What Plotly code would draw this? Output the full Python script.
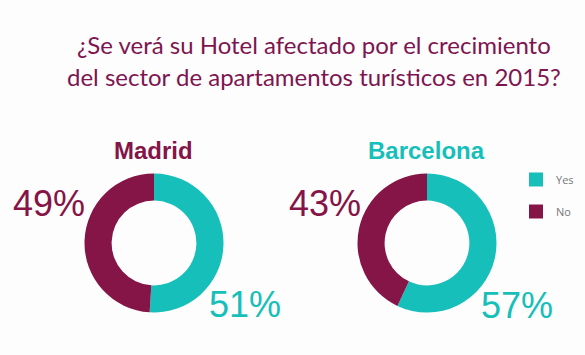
import plotly.graph_objects as go

labels = ["Yes", "No"]
cities = ["Madrid", "Barcelona"]
madrid_values = [51, 49]
barcelona_values = [57, 43]
title_lines = ["¿Se verá su Hotel afectado por el crecimiento",
               "del sector de apartamentos turísticos en 2015?"]

TEAL = "#17BFBA"
MAROON = "#851447"
W, H = 585, 355

def dom(cx, cy, r):
    return dict(x=[(cx - r) / W, (cx + r) / W], y=[(H - cy - r) / H, (H - cy + r) / H])

fig = go.Figure()
fig.add_trace(go.Pie(labels=labels, values=madrid_values, hole=0.61, sort=False,
                     direction="clockwise", rotation=0, textinfo="none",
                     marker=dict(colors=[TEAL, MAROON]), domain=dom(154, 243, 69.5),
                     showlegend=False, hoverinfo="label+percent"))
fig.add_trace(go.Pie(labels=labels, values=barcelona_values, hole=0.61, sort=False,
                     direction="clockwise", rotation=0, textinfo="none",
                     marker=dict(colors=[TEAL, MAROON]), domain=dom(427, 243, 69.5),
                     showlegend=False, hoverinfo="label+percent"))
# legend entries (one group each so the gap between them can be set)
for lab, col in zip(labels, [TEAL, MAROON]):
    fig.add_trace(go.Scatter(x=[None], y=[None], mode="markers", name=lab, legendgroup=lab,
                             marker=dict(symbol="square", size=14, color=col), showlegend=True))

ann = []
ann.append(dict(x=314 / W, y=1 - 44 / H, text=title_lines[0], showarrow=False,
                font=dict(family="Lato", size=24, color="#7E1550")))
ann.append(dict(x=314 / W, y=1 - 77 / H, text=title_lines[1], showarrow=False,
                font=dict(family="Lato", size=24, color="#7E1550")))
ann.append(dict(x=153 / W, y=1 - 150 / H, text="<b>" + cities[0] + "</b>", showarrow=False,
                font=dict(family="Liberation Sans", size=24, color=MAROON)))
ann.append(dict(x=426 / W, y=1 - 150 / H, text="<b>" + cities[1] + "</b>", showarrow=False,
                font=dict(family="Liberation Sans", size=24, color=TEAL)))

pct_pos = [(49, 203, madrid_values[1], MAROON), (245, 304, madrid_values[0], TEAL),
           (325, 203, barcelona_values[1], MAROON), (517, 305, barcelona_values[0], TEAL)]
for x, y, v, c in pct_pos:
    ann.append(dict(x=x / W, y=1 - y / H, text=f"{v}%", showarrow=False,
                    font=dict(family="Liberation Sans", size=36, color=c)))
for a in ann:
    a["xref"] = "paper"; a["yref"] = "paper"
    a["xanchor"] = "center"; a["yanchor"] = "middle"

fig.update_layout(width=W, height=H, margin=dict(l=0, r=0, t=0, b=0),
                  paper_bgcolor="#FDFDFD", plot_bgcolor="rgba(0,0,0,0)",
                  xaxis=dict(visible=False), yaxis=dict(visible=False),
                  annotations=ann,
                  legend=dict(x=516 / W, y=1 - 165 / H, xanchor="left", yanchor="top",
                              font=dict(family="Open Sans", size=11, color="#777777"),
                              bgcolor="rgba(0,0,0,0)", tracegroupgap=13, itemwidth=30))
fig.write_html("out.html")
